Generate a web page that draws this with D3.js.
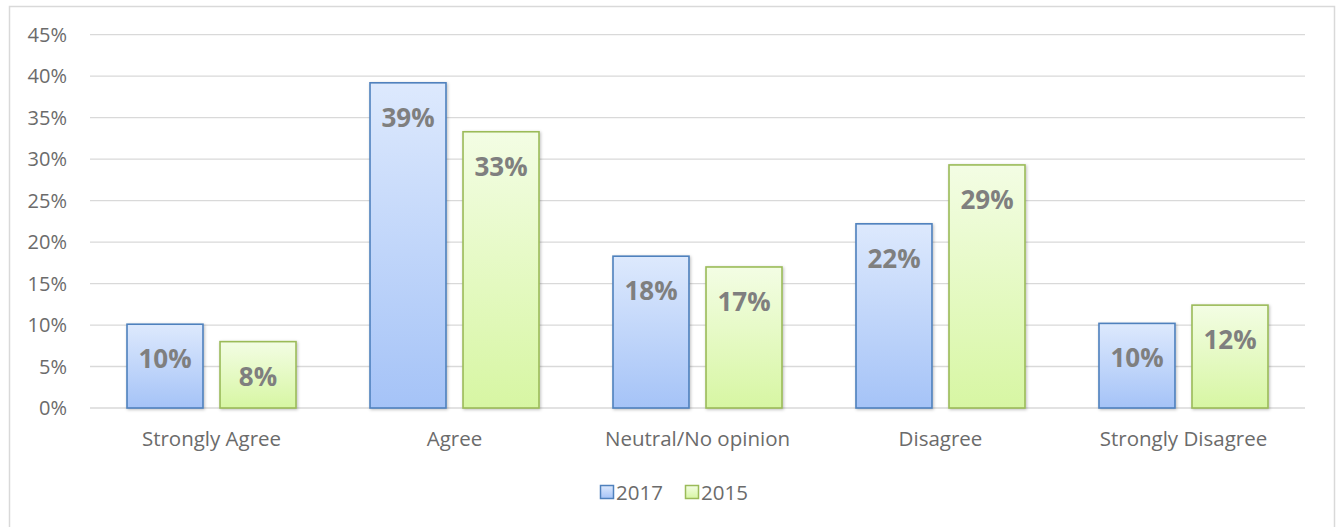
<!DOCTYPE html>
<html>
<head>
<meta charset="utf-8">
<script src="https://cdn.jsdelivr.net/npm/d3@7"></script>
<style>
  html, body { margin: 0; padding: 0; background: #fff; }
  svg { display: block; font-family: "Open Sans", Lato, sans-serif; }
</style>
</head>
<body>
<svg id="chart" width="1342" height="527"></svg>
<script>
// Survey responses, share of respondents (%)
const categories = ["Strongly Agree", "Agree", "Neutral/No opinion", "Disagree", "Strongly Disagree"];
const seriesNames = ["2017", "2015"];
const values2017 = [10.1, 39.2, 18.3, 22.2, 10.2];
const values2015 = [8.0, 33.3, 17.0, 29.3, 12.4];
const yTicks = [0, 5, 10, 15, 20, 25, 30, 35, 40, 45];

const seriesValues = { "2017": values2017, "2015": values2015 };
const palette = {
  "2017": { top: "#dde9fd", bottom: "#a5c3f7", stroke: "#4f81bd" },
  "2015": { top: "#f3fde4", bottom: "#d7f6a3", stroke: "#9bbb59" }
};
const textGrey = "#6b6b6b";

const svg = d3.select("#chart");
const plot = { left: 90, right: 1305, top: 34.7, bottom: 408 };

// outer frame
svg.append("rect")
  .attr("x", 9.5).attr("y", 6.5)
  .attr("width", 1325).attr("height", 540)
  .attr("fill", "#fff").attr("stroke", "#d9d9d9").attr("stroke-width", 1.5);

const defs = svg.append("defs");
seriesNames.forEach(s => {
  const g = defs.append("linearGradient").attr("id", "grad" + s)
    .attr("x1", 0).attr("y1", 0).attr("x2", 0).attr("y2", 1);
  g.append("stop").attr("offset", "0%").attr("stop-color", palette[s].top);
  g.append("stop").attr("offset", "100%").attr("stop-color", palette[s].bottom);
});
const shadow = defs.append("filter").attr("id", "shadow")
  .attr("x", "-20%").attr("y", "-20%").attr("width", "140%").attr("height", "140%");
shadow.append("feDropShadow").attr("dx", 1).attr("dy", 1).attr("stdDeviation", 1.5)
  .attr("flood-color", "#000").attr("flood-opacity", 0.25);

const y = d3.scaleLinear().domain([0, 45]).range([plot.bottom, plot.top]);
const x0 = d3.scaleBand().domain(categories).range([plot.left, plot.right])
  .paddingInner(0.3045).paddingOuter(0.1523);
const x1 = d3.scaleBand().domain(seriesNames).range([0, x0.bandwidth()])
  .paddingInner(0.183).paddingOuter(0);

// gridlines
svg.append("g").selectAll("line").data(yTicks).join("line")
  .attr("x1", plot.left).attr("x2", plot.right)
  .attr("y1", d => y(d)).attr("y2", d => y(d))
  .attr("stroke", "#d9d9d9").attr("stroke-width", 1.3);

// y axis labels
svg.append("g").selectAll("text").data(yTicks).join("text")
  .attr("x", 67).attr("y", d => y(d) + 7)
  .attr("text-anchor", "end")
  .attr("font-size", 20).attr("fill", textGrey)
  .text(d => d + "%");

// bars
const groups = svg.append("g").selectAll("g").data(categories).join("g")
  .attr("transform", d => `translate(${x0(d)},0)`);

const fmt = d3.format(".0f");
groups.each(function(cat, i) {
  const g = d3.select(this);
  seriesNames.forEach(s => {
    const v = seriesValues[s][i];
    g.append("rect")
      .attr("x", x1(s)).attr("y", y(v))
      .attr("width", x1.bandwidth()).attr("height", y(0) - y(v))
      .attr("fill", `url(#grad${s})`)
      .attr("stroke", palette[s].stroke).attr("stroke-width", 1.6)
      .attr("filter", "url(#shadow)");
    g.append("text")
      .attr("x", x1(s) + x1.bandwidth() / 2)
      .attr("y", y(v) + 44)
      .attr("text-anchor", "middle")
      .attr("font-size", 26).attr("font-weight", "bold").attr("fill", "#7f7f7f")
      .text(fmt(v) + "%");
  });
});

// category labels
svg.append("g").selectAll("text").data(categories).join("text")
  .attr("x", d => x0(d) + x0.bandwidth() / 2)
  .attr("y", 446)
  .attr("text-anchor", "middle")
  .attr("font-size", 20.5).attr("fill", textGrey)
  .text(d => d);

// legend
const legendX = [600, 685];
const legend = svg.append("g").selectAll("g").data(seriesNames).join("g")
  .attr("transform", (d, i) => `translate(${legendX[i]},485)`);
legend.append("rect")
  .attr("x", 0.5).attr("y", 0.5).attr("width", 13).attr("height", 13)
  .attr("fill", d => `url(#grad${d})`)
  .attr("stroke", d => palette[d].stroke).attr("stroke-width", 1.5);
legend.append("text")
  .attr("x", 16).attr("y", 14.5)
  .attr("font-size", 20.5).attr("fill", textGrey)
  .text(d => d);
</script>
</body>
</html>
